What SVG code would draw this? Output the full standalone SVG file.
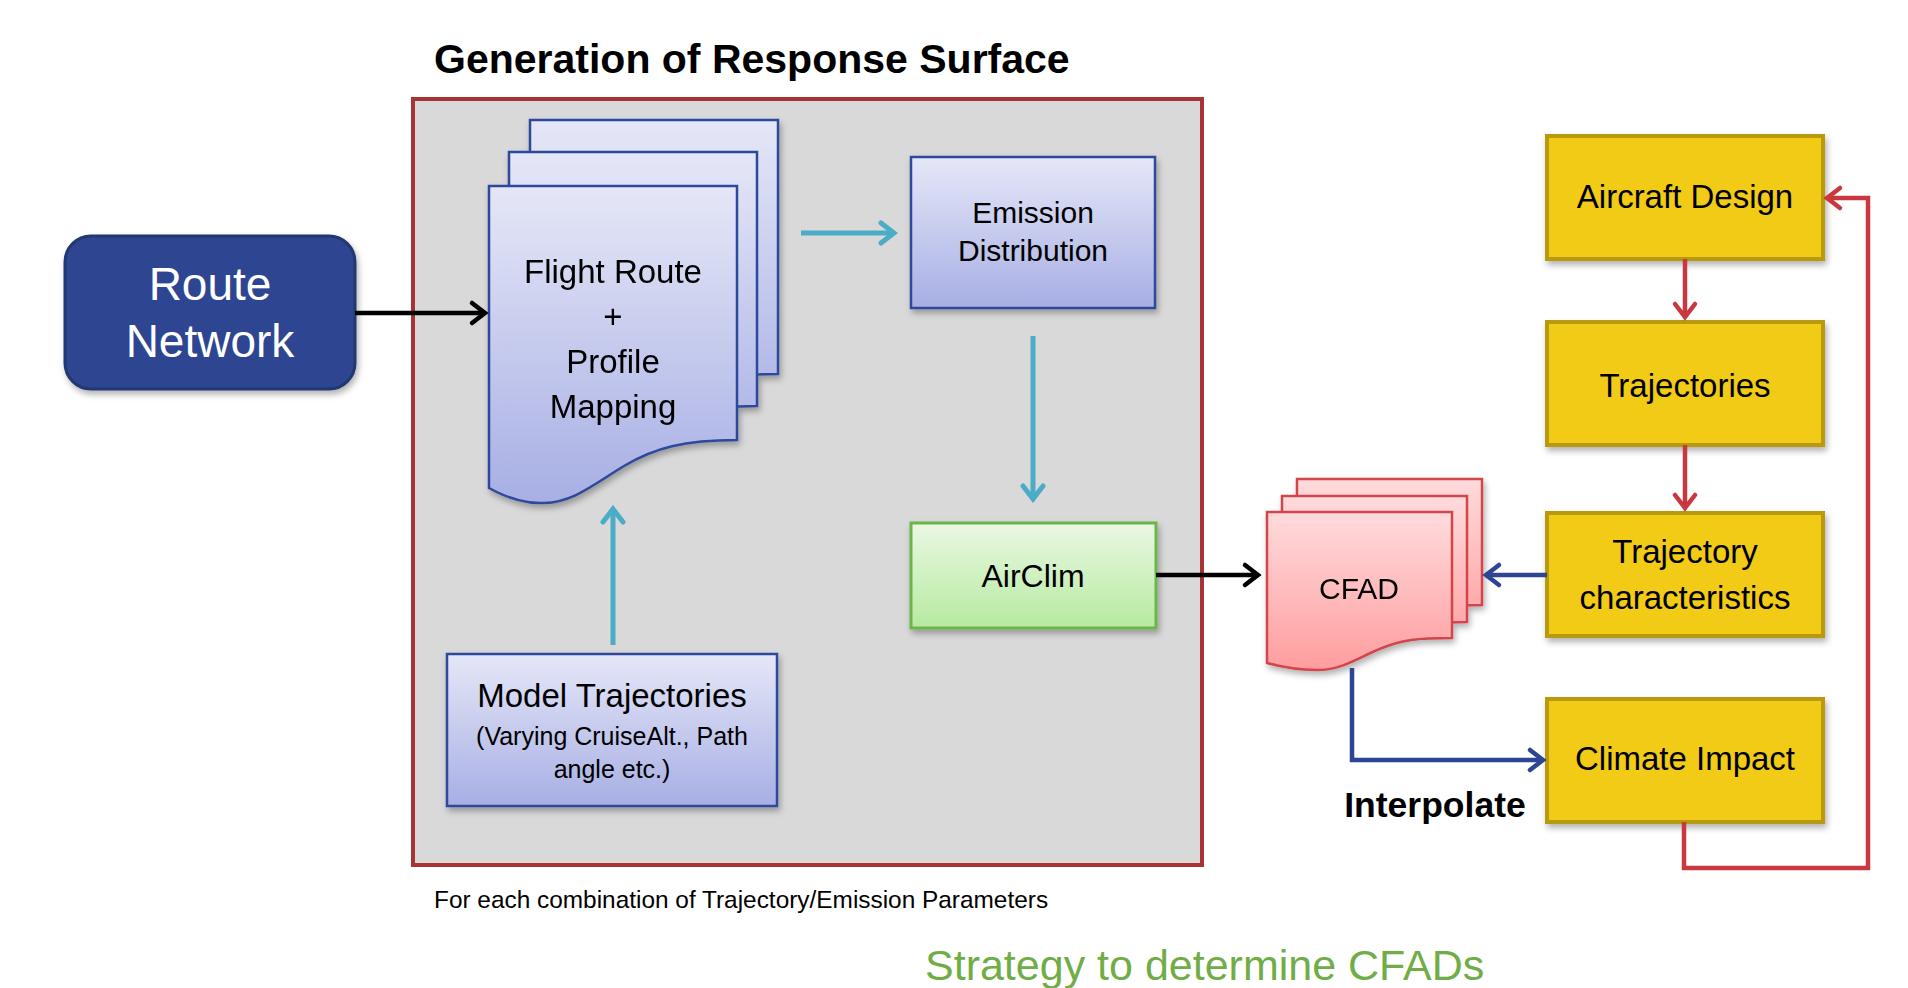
<svg xmlns="http://www.w3.org/2000/svg" width="1908" height="988" viewBox="0 0 1908 988">
<style>
text{font-family:"Liberation Sans",Arial,sans-serif;fill:#000}
.c{text-anchor:middle}
.f33{font-size:33px}
.blue{stroke:#2F4A9C;stroke-width:2.5}
.yel{fill:#F1CB13;stroke:#B79A0C;stroke-width:4}
.pink{fill:url(#gPink);stroke:#D2444B;stroke-width:2.5}
.doc{fill:url(#gBlue);stroke:#2F4A9C;stroke-width:2.5}
.ln{fill:none;stroke-width:4.5}
.k{stroke:#000}
.cy{stroke:#4BACC6;stroke-width:5}
.bl{stroke:#2E4593}
.rd{stroke:#C8383E}
</style>
<defs>
<linearGradient id="gBlue" x1="0" y1="0" x2="0" y2="1"><stop offset="0" stop-color="#E5E7F7"/><stop offset="1" stop-color="#A7AFE4"/></linearGradient>
<linearGradient id="gGreen" x1="0" y1="0" x2="0" y2="1"><stop offset="0" stop-color="#EAF8E3"/><stop offset="1" stop-color="#B6EAA0"/></linearGradient>
<linearGradient id="gPink" x1="0" y1="0" x2="0" y2="1"><stop offset="0" stop-color="#FFDBDC"/><stop offset="1" stop-color="#FF9D9F"/></linearGradient>
<filter id="sh" x="-10%" y="-10%" width="130%" height="130%"><feDropShadow dx="2" dy="4" stdDeviation="3" flood-color="#000" flood-opacity="0.3"/></filter>
<path id="docF" d="M0,0 H248 V254 C195,254 165,262 135,280 C105,298 85,316 55,317 C35,318 18,312 0,302 Z"/>
<path id="docC" d="M0,0 H185 V126 C150,126 135,128 115,136 C90,146 75,158 50,158 C30,158 15,155 0,151 Z"/>
<marker id="aK" markerUnits="userSpaceOnUse" viewBox="-18 -14 22 28" refX="0" refY="0" markerWidth="22" markerHeight="28" orient="auto"><path d="M-13,-10 L0,0 L-13,10" fill="none" stroke="#000" stroke-width="4.5" stroke-linecap="round"/></marker>
<marker id="aC" markerUnits="userSpaceOnUse" viewBox="-18 -14 22 28" refX="0" refY="0" markerWidth="22" markerHeight="28" orient="auto"><path d="M-13,-10 L0,0 L-13,10" fill="none" stroke="#4BACC6" stroke-width="5" stroke-linecap="round"/></marker>
<marker id="aB" markerUnits="userSpaceOnUse" viewBox="-18 -14 22 28" refX="0" refY="0" markerWidth="22" markerHeight="28" orient="auto"><path d="M-13,-10 L0,0 L-13,10" fill="none" stroke="#2E4593" stroke-width="4.5" stroke-linecap="round"/></marker>
<marker id="aR" markerUnits="userSpaceOnUse" viewBox="-18 -14 22 28" refX="0" refY="0" markerWidth="22" markerHeight="28" orient="auto"><path d="M-13,-10 L0,0 L-13,10" fill="none" stroke="#C8383E" stroke-width="4.5" stroke-linecap="round"/></marker>
</defs>
<rect width="1908" height="988" fill="#fff"/>

<g id="title"><text x="434" y="73" style="font-weight:bold;font-size:41px">Generation of Response Surface</text></g>

<g id="response-surface">
<rect x="413" y="99" width="789" height="766" fill="#D9D9D9" stroke="#A93232" stroke-width="4"/>
</g>

<g id="route-network">
<rect x="65" y="236" width="290" height="153" rx="26" fill="#2E4591" stroke="#22376F" stroke-width="3" filter="url(#sh)"/>
<text x="210" y="300" class="c" style="font-size:46px;fill:#fff">Route</text>
<text x="210" y="357" class="c" style="font-size:46px;fill:#fff">Network</text>
</g>

<g id="flight-route" filter="url(#sh)">
<use href="#docF" x="530" y="120" class="doc"/>
<use href="#docF" x="509" y="152" class="doc"/>
<use href="#docF" x="489" y="186" class="doc"/>
<text x="613" y="283" class="c f33">Flight Route</text>
<text x="613" y="328" class="c f33">+</text>
<text x="613" y="373" class="c f33">Profile</text>
<text x="613" y="418" class="c f33">Mapping</text>
</g>

<g id="emission">
<rect x="911" y="157" width="244" height="151" fill="url(#gBlue)" class="blue" filter="url(#sh)"/>
<text x="1033" y="223" class="c" style="font-size:30px">Emission</text>
<text x="1033" y="261" class="c" style="font-size:30px">Distribution</text>
</g>

<g id="airclim">
<rect x="911" y="523" width="245" height="105" fill="url(#gGreen)" stroke="#6DB54B" stroke-width="3" filter="url(#sh)"/>
<text x="1033" y="587" class="c" style="font-size:32px">AirClim</text>
</g>

<g id="model-trajectories">
<rect x="447" y="654" width="330" height="152" fill="url(#gBlue)" class="blue" filter="url(#sh)"/>
<text x="612" y="707" class="c f33">Model Trajectories</text>
<text x="612" y="745" class="c" style="font-size:25px">(Varying CruiseAlt., Path</text>
<text x="612" y="778" class="c" style="font-size:25px">angle etc.)</text>
</g>

<g id="cfad" filter="url(#sh)">
<use href="#docC" x="1297" y="479" class="pink"/>
<use href="#docC" x="1282" y="496" class="pink"/>
<use href="#docC" x="1267" y="512" class="pink"/>
<text x="1359" y="599" class="c" style="font-size:30px">CFAD</text>
</g>

<g id="aircraft-design">
<rect x="1547" y="136" width="276" height="123" class="yel" filter="url(#sh)"/>
<text x="1685" y="208" class="c f33">Aircraft Design</text>
</g>
<g id="trajectories">
<rect x="1547" y="322" width="276" height="123" class="yel" filter="url(#sh)"/>
<text x="1685" y="397" class="c f33">Trajectories</text>
</g>
<g id="trajectory-characteristics">
<rect x="1547" y="513" width="276" height="123" class="yel" filter="url(#sh)"/>
<text x="1685" y="563" class="c f33">Trajectory</text>
<text x="1685" y="609" class="c f33">characteristics</text>
</g>
<g id="climate-impact">
<rect x="1547" y="699" width="276" height="123" class="yel" filter="url(#sh)"/>
<text x="1685" y="770" class="c f33">Climate Impact</text>
</g>

<g id="connectors">
<path class="ln k" d="M355,313 H485" marker-end="url(#aK)"/>
<path class="ln cy" d="M801,233 H894" marker-end="url(#aC)"/>
<path class="ln cy" d="M1033,336 V499" marker-end="url(#aC)"/>
<path class="ln cy" d="M613,645 V509" marker-end="url(#aC)"/>
<path class="ln k" d="M1156,575 H1258" marker-end="url(#aK)"/>
<path class="ln bl" d="M1547,575 H1486" marker-end="url(#aB)"/>
<path class="ln bl" d="M1352,668 V760 H1543" marker-end="url(#aB)"/>
<path class="ln rd" d="M1685,259 V317" marker-end="url(#aR)"/>
<path class="ln rd" d="M1685,445 V508" marker-end="url(#aR)"/>
<path class="ln rd" d="M1684,822 V868 H1868 V198 H1827" marker-end="url(#aR)"/>
</g>

<g id="labels">
<text x="1435" y="817" class="c" style="font-weight:bold;font-size:35.5px">Interpolate</text>
<text x="434" y="908" style="font-size:24.4px">For each combination of Trajectory/Emission Parameters</text>
<text x="925" y="980" style="font-size:43px;fill:#70AD47">Strategy to determine CFADs</text>
</g>
</svg>
